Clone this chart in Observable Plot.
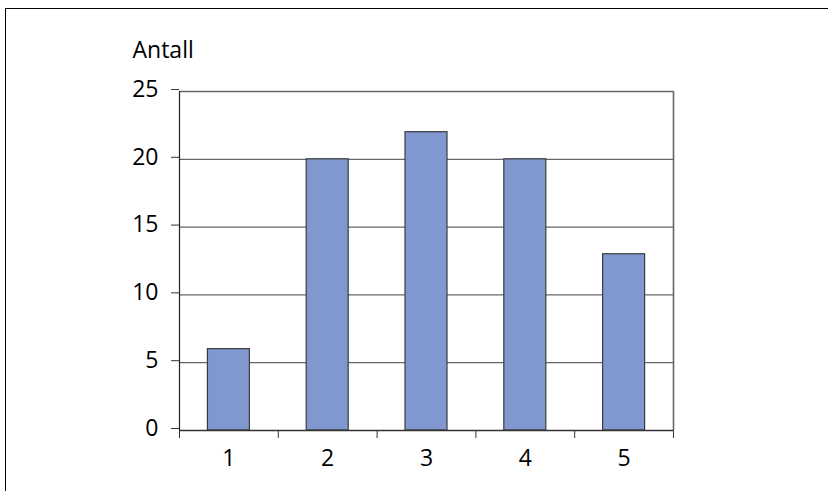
<!DOCTYPE html>
<html>
<head>
<meta charset="utf-8">
<script src="https://cdn.jsdelivr.net/npm/d3@7"></script>
<script src="https://cdn.jsdelivr.net/npm/@observablehq/plot@0.6"></script>
<style>
  html, body { margin: 0; padding: 0; background: #fff; overflow: hidden; }
  #wrap { position: relative; width: 828px; height: 491px; }
  #border { position: absolute; left: 5px; top: 8px; width: 900px; height: 600px;
            border-left: 1px solid #000; border-top: 1px solid #000; pointer-events: none; }
</style>
</head>
<body>
<div id="wrap"><div id="border"></div></div>
<script>
const categories = [1, 2, 3, 4, 5];
const values = [6, 20, 22, 20, 13];
const yTicks = [0, 5, 10, 15, 20, 25];
const yLabel = "Antall";

const data = categories.map((c, i) => ({cat: c, value: values[i]}));
const halfBar = 0.2125;
const boundaries = categories.map(c => c - 0.5).concat([categories[categories.length - 1] + 0.5]);
const font = "'Open Sans', sans-serif";

const chart = Plot.plot({
  width: 828,
  height: 491,
  marginLeft: 179,
  marginRight: 155,
  marginTop: 91,
  marginBottom: 61,
  style: {fontFamily: font, fontSize: "23px", color: "#000", background: "transparent"},
  x: {type: "linear", domain: [0.5, 5.5]},
  y: {domain: [0, 25]},
  marks: [
    Plot.ruleY(yTicks.filter(t => t > 0), {stroke: "#666", strokeWidth: 1.3, strokeOpacity: 1}),
    Plot.ruleX([5.5], {stroke: "#666", strokeWidth: 1.6, strokeOpacity: 1}),
    Plot.rectY(data, {
      x1: d => d.cat - halfBar,
      x2: d => d.cat + halfBar,
      y: "value",
      fill: "#8098cf",
      stroke: "#3c3c3c",
      strokeWidth: 1.2
    }),
    Plot.ruleY([0], {stroke: "#333", strokeWidth: 1.3, strokeOpacity: 1}),
    Plot.ruleX([0.5], {stroke: "#222", strokeWidth: 1.2, strokeOpacity: 1}),
    Plot.axisY({ticks: yTicks, tickSize: 8, tickPadding: 13, fontSize: 23, dy: -2, label: null, tickFormat: d => d, stroke: "#333", strokeOpacity: 1}),
    Plot.axisX({ticks: boundaries, tickSize: 8, text: null, label: null, stroke: "#333", strokeOpacity: 1}),
    Plot.axisX({ticks: categories, tickSize: 0, tickPadding: 19, fontSize: 23, label: null, tickFormat: d => d}),
    Plot.text([yLabel], {frameAnchor: "top-left", dx: -47, dy: -34, lineAnchor: "bottom", textAnchor: "start", fontSize: 23})
  ]
});
document.getElementById("wrap").prepend(chart);
</script>
</body>
</html>
